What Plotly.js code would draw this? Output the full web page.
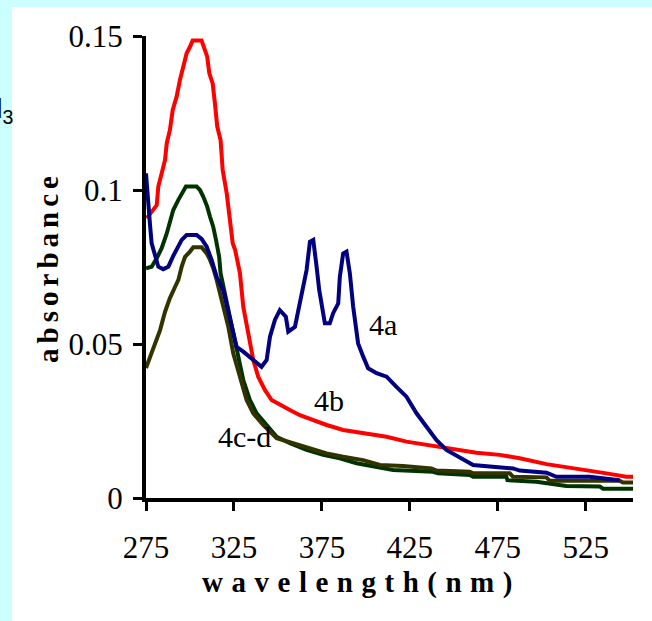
<!DOCTYPE html>
<html>
<head>
<meta charset="utf-8">
<script src="https://cdn.plot.ly/plotly-3.0.1.min.js"></script>
<style>html,body{margin:0;padding:0;background:#fff;}#chart{width:652px;height:621px;}</style>
</head>
<body>
<div id="chart"></div>
<script>
// 4a (blue)
const wl_4a = [275.0,275.6,276.1,277.3,278.2,280.1,282.0,284.8,287.7,290.5,293.4,295.3,298.1,303.8,306.6,309.5,312.3,315.2,318.9,322.7,326.5,330.3,336.0,340.7,343.6,345.5,348.3,351.1,354.5,355.9,359.7,361.5,363.5,366.3,368.2,370.1,372.0,373.5,376.7,379.5,381.4,384.3,385.2,387.1,389.0,390.9,392.8,395.6,398.5,401.3,406.1,411.8,417.4,423.1,428.8,434.5,440.2,445.8,452.4,461.0,470.5,483.7,487.5,502.7,508.4,527.3,544.3];
const abs_4a = [0.1054,0.100,0.0951,0.0886,0.0827,0.0783,0.0751,0.0743,0.0751,0.0786,0.0821,0.0838,0.0854,0.0854,0.0841,0.0816,0.0773,0.0718,0.0675,0.0589,0.0491,0.0475,0.0448,0.0426,0.0448,0.0524,0.0578,0.0610,0.0589,0.0540,0.0556,0.0610,0.0670,0.0740,0.0832,0.0838,0.0751,0.0675,0.0567,0.0567,0.0600,0.0632,0.0718,0.0794,0.0800,0.0730,0.0621,0.0502,0.0459,0.0421,0.0405,0.0394,0.0361,0.0329,0.0275,0.0231,0.0188,0.0156,0.0134,0.0107,0.0102,0.0096,0.0089,0.0082,0.0069,0.0069,0.0058];
// 4b (red)
const wl_4b = [275.4,278.2,281.1,282.0,283.9,285.8,286.8,288.6,290.2,292.4,294.3,296.2,298.1,300.0,301.5,306.6,308.0,309.8,311.0,312.9,314.2,315.5,317.4,318.6,320.9,322.3,324.3,325.7,328.4,330.3,333.1,336.0,338.8,342.6,346.4,351.1,356.8,362.5,370.1,377.7,387.1,400.4,411.8,423.1,436.4,449.6,462.9,476.1,487.5,502.7,523.4,536.8,548.1,551.9];
const abs_4b = [0.0908,0.0930,0.0951,0.1011,0.1049,0.1097,0.1152,0.1195,0.1260,0.1303,0.1357,0.1400,0.1444,0.1465,0.1485,0.1485,0.1465,0.1433,0.1379,0.1346,0.1281,0.1206,0.1162,0.1065,0.0989,0.0924,0.0827,0.0805,0.0730,0.0621,0.0535,0.0448,0.0394,0.0351,0.0318,0.0302,0.0286,0.0269,0.0253,0.0237,0.0221,0.0210,0.0199,0.0183,0.0172,0.0161,0.0147,0.0140,0.0129,0.0110,0.0093,0.0080,0.0069,0.0069];
// 4c (dark green)
const wl_4c = [275.0,278.2,281.1,283.9,286.8,288.6,290.5,293.4,295.3,297.7,303.8,305.7,307.6,309.8,311.4,313.2,314.8,316.6,317.4,318.8,319.9,322.7,324.6,327.4,330.3,334.1,337.9,343.6,349.3,356.8,366.3,375.7,385.2,394.7,408.0,415.5,438.2,441.0,459.1,461.0,479.9,480.5,497.0,514.0,533.0,534.9,551.9];
const abs_4c = [0.0746,0.0751,0.0778,0.0811,0.0859,0.0892,0.0935,0.0968,0.0989,0.1011,0.1011,0.1000,0.0978,0.0946,0.0913,0.0881,0.0838,0.0783,0.0730,0.0692,0.0665,0.0589,0.0524,0.0448,0.0383,0.0318,0.0275,0.0237,0.0199,0.0178,0.0156,0.0140,0.0129,0.0113,0.0100,0.0091,0.0085,0.0080,0.0075,0.0069,0.0069,0.0058,0.0053,0.0039,0.0037,0.0030,0.0030];
// 4d (olive)
const wl_4d = [275.0,277.3,280.1,283.0,285.8,288.6,291.5,293.4,295.3,297.2,300.0,301.9,306.6,309.5,311.4,313.2,315.2,316.1,318.9,321.8,324.6,328.4,332.2,336.0,341.6,349.3,358.7,368.2,377.7,387.1,398.5,408.0,421.2,437.3,440.2,459.1,461.0,481.8,483.7,502.7,504.5,544.3,546.2,551.9];
const abs_4d = [0.0422,0.0455,0.0497,0.0545,0.0604,0.0649,0.0685,0.0708,0.0751,0.0783,0.0800,0.0814,0.0814,0.0794,0.0773,0.0747,0.0708,0.0686,0.0621,0.0556,0.0470,0.0394,0.0318,0.0275,0.0237,0.0194,0.0178,0.0161,0.0145,0.0134,0.0123,0.0107,0.0104,0.0096,0.0089,0.0085,0.0080,0.0080,0.0069,0.0067,0.0056,0.0056,0.0050,0.0050];

const xTickVals = [275,325,375,425,475,525];
const xTickText = ['275','325','375','425','475','525'];
const yTickVals = [0,0.05,0.1,0.15];
const yTickText = ['0','0.05','0.1','0.15'];

const seriesLabels = ['4a','4b','4c-d'];
const labelWl = [409.7,379.0,331.2];
const labelAbs = [0.0562,0.0318,0.0201];

const serif = 'Liberation Serif, Times New Roman, serif';

const traces = [
  {x: wl_4b, y: abs_4b, name: '4b', line: {color: '#ff0000'}},
  {x: wl_4c, y: abs_4c, name: '4c', line: {color: '#003300'}},
  {x: wl_4d, y: abs_4d, name: '4d', line: {color: '#333300'}},
  {x: wl_4a, y: abs_4a, name: '4a', line: {color: '#000080'}}
].map(t => Object.assign({type: 'scatter', mode: 'lines', hoverinfo: 'skip'}, t, {line: Object.assign({width: 4, shape: 'linear'}, t.line)}));

const annotations = seriesLabels.map((s, i) => ({
  text: s, x: labelWl[i], y: labelAbs[i], xref: 'x', yref: 'y',
  showarrow: false, font: {family: serif, size: 30, color: '#000'}
}));
annotations.push({
  text: 'd<sub>3</sub>', xref: 'paper', yref: 'paper', x: -0.2669, y: 0.838,
  xanchor: 'right', yanchor: 'middle', showarrow: false,
  font: {family: 'Liberation Sans, Arial, sans-serif', size: 28, color: '#000'}
});

const layout = {
  width: 652, height: 621,
  margin: {l: 146, r: 19, t: 36, b: 123, pad: 0},
  paper_bgcolor: '#ccffff',
  plot_bgcolor: '#ffffff',
  showlegend: false,
  shapes: [{type: 'rect', xref: 'paper', yref: 'paper', x0: -0.2752, x1: 1.05, y0: -0.28, y1: 1.0628,
            fillcolor: '#ffffff', line: {width: 0}, layer: 'below'}],
  xaxis: {
    range: [275, 551.9], tickvals: xTickVals, ticktext: xTickText,
    showgrid: false, zeroline: false, showline: true, linecolor: '#000', linewidth: 4,
    ticks: 'outside', ticklen: 9, tickwidth: 3, tickcolor: '#000',
    tickfont: {family: serif, size: 31, color: '#000'}, ticklabelstandoff: 10,
    title: {text: 'wavelength(nm)', font: {family: serif, size: 29, color: '#000', weight: 'bold'}, standoff: 8}
  },
  yaxis: {
    range: [0, 0.15], tickvals: yTickVals, ticktext: yTickText,
    showgrid: false, zeroline: false, showline: true, linecolor: '#000', linewidth: 4,
    ticks: 'outside', ticklen: 9, tickwidth: 3, tickcolor: '#000',
    tickfont: {family: serif, size: 31, color: '#000'}, ticklabelstandoff: 4,
    title: {text: 'absorbance', font: {family: serif, size: 29, color: '#000', weight: 'bold'}, standoff: 2}
  },
  annotations: annotations
};

Plotly.newPlot('chart', traces, layout, {displayModeBar: false, staticPlot: true}).then(gd => {
  const xt = document.querySelector('.xtitle');
  if (xt) { xt.setAttribute('letter-spacing', '8.5px'); xt.setAttribute('transform', 'translate(-28,0)'); }
  const yt = document.querySelector('.ytitle');
  if (yt) { yt.setAttribute('letter-spacing', '5px'); }
});
</script>
</body>
</html>
